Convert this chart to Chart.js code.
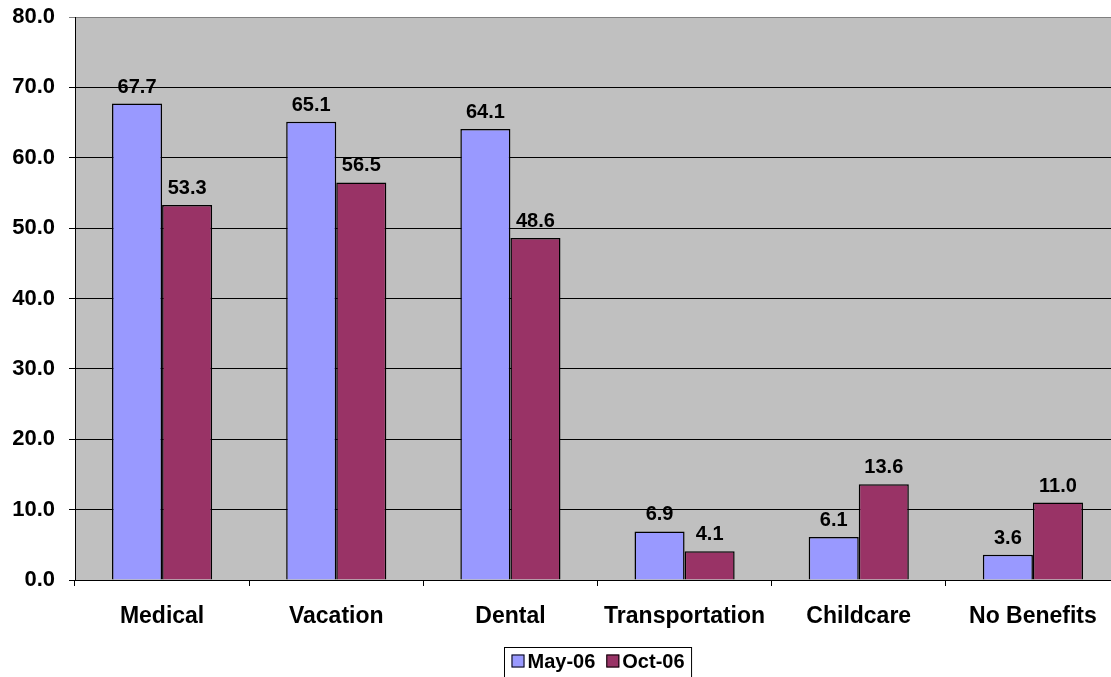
<!DOCTYPE html>
<html>
<head>
<meta charset="utf-8">
<script src="https://cdn.jsdelivr.net/npm/chart.js@4.4.1/dist/chart.umd.min.js"></script>
<style>
html,body{margin:0;padding:0;background:#fff;overflow:hidden;}
#wrap{width:1120px;height:677px;}
</style>
</head>
<body>
<div id="wrap"><canvas id="c" width="1120" height="677"></canvas></div>
<script>
const categories = ["Medical", "Vacation", "Dental", "Transportation", "Childcare", "No Benefits"];
const seriesNames = ["May-06", "Oct-06"];
const may06 = [67.7, 65.1, 64.1, 6.9, 6.1, 3.6];
const oct06 = [53.3, 56.5, 48.6, 4.1, 13.6, 11.0];
const seriesColors = ["#9999FF", "#993366"];
const yMin = 0, yMax = 80, yStep = 10;

const FONT = "'Liberation Sans', Arial, sans-serif";

const plotBg = {
  id: 'plotBg',
  beforeDraw(chart) {
    const a = chart.chartArea, ctx = chart.ctx;
    ctx.save();
    ctx.fillStyle = '#C0C0C0';
    ctx.fillRect(a.left, a.top, a.right - a.left, a.bottom - a.top);
    ctx.restore();
  }
};

const valueLabels = {
  id: 'valueLabels',
  afterDatasetsDraw(chart) {
    const ctx = chart.ctx;
    ctx.save();
    ctx.font = "bold 20px " + FONT;
    ctx.fillStyle = '#000';
    ctx.textAlign = 'center';
    ctx.textBaseline = 'alphabetic';
    chart.data.datasets.forEach((ds, i) => {
      chart.getDatasetMeta(i).data.forEach((bar, j) => {
        ctx.fillText(ds.data[j].toFixed(1), bar.x, bar.y - 11);
      });
    });
    ctx.restore();
  }
};

const boxLegend = {
  id: 'boxLegend',
  afterDraw(chart) {
    const ctx = chart.ctx, a = chart.chartArea;
    ctx.save();
    ctx.font = "bold 20px " + FONT;
    const sq = 13, gap = 3, itemGap = 11, padX = 7;
    const items = chart.data.datasets.map(ds => ({label: ds.label, color: ds.backgroundColor, w: ctx.measureText(ds.label).width}));
    let total = padX * 2;
    items.forEach((it, i) => { total += sq + gap + it.w + (i < items.length - 1 ? itemGap : 0); });
    const cx = (a.left + a.right) / 2;
    const bx = Math.round(cx - total / 2) + 0.5, by = 647.5;
    ctx.strokeStyle = '#000';
    ctx.lineWidth = 1;
    ctx.strokeRect(bx, by, total, 40);
    let x = bx + padX;
    const cy = 661;
    items.forEach(it => {
      ctx.fillStyle = it.color;
      ctx.fillRect(x, cy - sq / 2, sq, sq);
      ctx.strokeStyle = '#000';
      ctx.strokeRect(x + 0.5, cy - sq / 2 + 0.5, sq - 1, sq - 1);
      x += sq + gap;
      ctx.fillStyle = '#000';
      ctx.textBaseline = 'middle';
      ctx.textAlign = 'left';
      ctx.fillText(it.label, x, cy + 1);
      x += it.w + itemGap;
    });
    ctx.restore();
  }
};

new Chart(document.getElementById('c'), {
  type: 'bar',
  data: {
    labels: categories,
    datasets: [
      {label: seriesNames[0], data: may06, backgroundColor: seriesColors[0], borderColor: '#000', borderWidth: 1.5},
      {label: seriesNames[1], data: oct06, backgroundColor: seriesColors[1], borderColor: '#000', borderWidth: 1.5}
    ]
  },
  options: {
    responsive: false,
    animation: false,
    devicePixelRatio: 1,
    layout: {padding: {top: 17, left: 0, right: 0, bottom: 0}},
    plugins: {legend: {display: false}, tooltip: {enabled: false}},
    datasets: {bar: {barPercentage: 1.0, categoryPercentage: 0.575}},
    scales: {
      x: {
        offset: true,
        grid: {display: true, drawOnChartArea: false, drawTicks: true, tickLength: 6, color: '#000', offset: true},
        border: {display: true, color: '#000', width: 1},
        ticks: {color: '#000', font: {family: FONT, size: 23, weight: 'bold'}, padding: 17, maxRotation: 0, autoSkip: false},
        afterFit(s) { s.height = 97; s.paddingLeft = 0; s.paddingRight = 0; }
      },
      y: {
        min: yMin, max: yMax,
        grid: {
          color: ctx => (ctx.tick && ctx.tick.value === yMax) ? '#808080' : '#000',
          lineWidth: 1, drawTicks: true, tickLength: 6
        },
        border: {display: true, color: '#000', width: 1},
        ticks: {stepSize: yStep, color: '#000', font: {family: FONT, size: 22, weight: 'bold'}, padding: 14,
          callback: v => Number(v).toFixed(1)},
        afterFit(s) { s.width = 75; s.paddingTop = 9; s.paddingBottom = 0; }
      }
    }
  },
  plugins: [plotBg, valueLabels, boxLegend]
});
</script>
</body>
</html>
